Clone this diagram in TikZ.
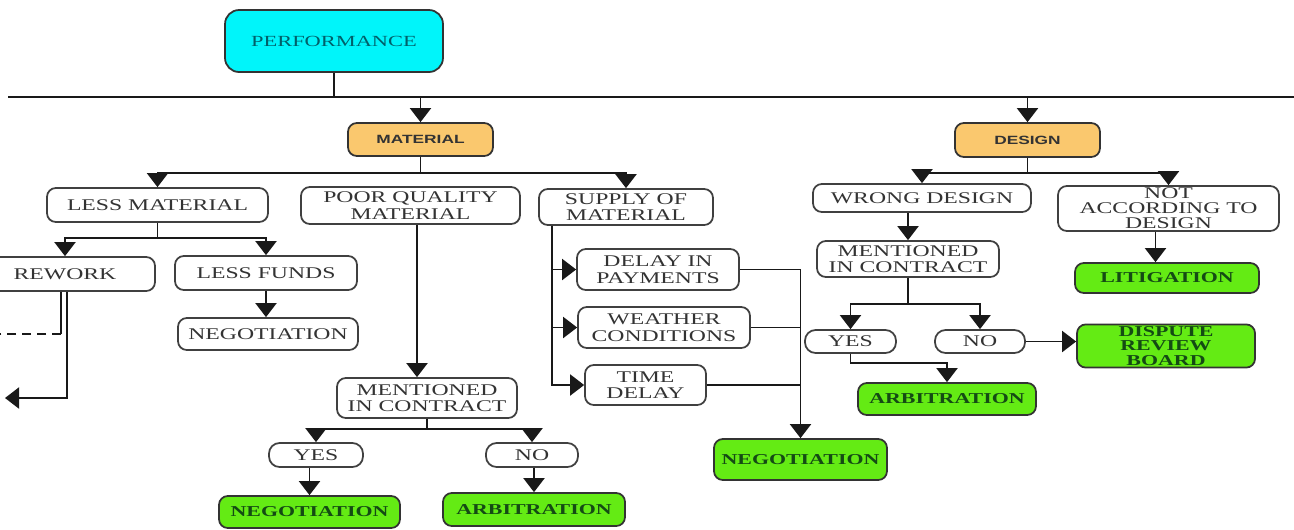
\documentclass[tikz,border=0pt]{standalone}
\usepackage{fontspec}
\setmainfont{Liberation Serif}[FakeStretch=1.45]
\setsansfont{Liberation Sans}[FakeStretch=1.45]
\usepackage{xcolor}
\usepackage{tikz}
\usetikzlibrary{arrows.meta}

\definecolor{perfcyan}{RGB}{0,245,250}
\definecolor{perftext}{RGB}{0,95,105}
\definecolor{matorange}{RGB}{250,200,110}
\definecolor{leafgreen}{RGB}{100,235,20}
\definecolor{leaftext}{RGB}{20,75,20}

\begin{document}
\begin{tikzpicture}[
      x=0.02cm, y=-0.02cm,
      box/.style={rectangle, draw=black!75, line width=1pt, fill=white, rounded corners=5pt, align=center, inner sep=1pt, text=black!80, font=\fontsize{9.3}{9.4}\selectfont},
      pill/.style={box, rounded corners=6pt},
      leaf/.style={box, fill=leafgreen, draw=black!80, text=leaftext, font=\fontsize{8.6}{8.6}\selectfont\bfseries},
      head/.style={box, fill=matorange, draw=black!80, text=black!80, font=\fontsize{6.8}{8}\selectfont\sffamily\bfseries},
      arrow/.style={-{Triangle[length=8pt,width=12pt]}, line width=1.1pt, draw=black!90},
      line/.style={line width=1.1pt, draw=black!90}
    ]
    \useasboundingbox (0,0) rectangle (1294,529);
    \clip (0,0) rectangle (1294,529);

    \node[box, fill=perfcyan, draw=black!80, text=perftext, rounded corners=8pt, minimum width=4.36cm, minimum height=1.24cm, font=\fontsize{8.8}{9}\selectfont] (perf) at (334,41) {PERFORMANCE};
    \node[head, minimum width=2.9cm, minimum height=0.66cm] (material) at (420.5,139.5) {MATERIAL};
    \node[head, minimum width=2.9cm, minimum height=0.68cm] (design) at (1027.5,140) {DESIGN};

    \node[box, minimum width=4.42cm, minimum height=0.68cm] (lessmat) at (157.5,205) {LESS MATERIAL};
    \node[box, minimum width=4.38cm, minimum height=0.74cm] (poorq) at (410.5,205.5) {POOR QUALITY\\MATERIAL};
    \node[box, minimum width=3.48cm, minimum height=0.72cm] (supply) at (626,207) {SUPPLY OF\\MATERIAL};
    \node[box, minimum width=3.6cm, minimum height=0.68cm] (rework) at (65,274) {REWORK};
    \node[box, minimum width=3.64cm, minimum height=0.68cm] (lessfunds) at (266,273) {LESS FUNDS};
    \node[box, minimum width=3.6cm, minimum height=0.64cm] (negot1) at (268,334) {NEGOTIATION};
    \node[box, minimum width=3.6cm, minimum height=0.8cm] (mic1) at (427,398) {MENTIONED\\IN CONTRACT};
    \node[pill, minimum width=1.88cm, minimum height=0.48cm] (yes1) at (316,455) {YES};
    \node[pill, minimum width=1.84cm, minimum height=0.48cm] (no1) at (532,455) {NO};
    \node[leaf, minimum width=3.62cm, minimum height=0.64cm] (negot2) at (309.5,512) {NEGOTIATION};
    \node[leaf, minimum width=3.64cm, minimum height=0.66cm] (arbit1) at (534,509.5) {ARBITRATION};
    \node[box, minimum width=3.24cm, minimum height=0.82cm] (delay) at (658,269.5) {DELAY IN\\PAYMENTS};
    \node[box, minimum width=3.44cm, minimum height=0.82cm] (weather) at (664,327.5) {WEATHER\\CONDITIONS};
    \node[box, minimum width=2.42cm, minimum height=0.8cm] (timedelay) at (645.5,385) {TIME\\DELAY};
    \node[leaf, minimum width=3.46cm, minimum height=0.82cm] (negot3) at (800.5,459.5) {NEGOTIATION};

    \node[box, minimum width=4.36cm, minimum height=0.56cm] (wrongd) at (922,198) {WRONG DESIGN};
    \node[box, minimum width=4.42cm, minimum height=0.9cm, font=\fontsize{9.3}{8.6}\selectfont] (notacc) at (1168.5,208.5) {NOT\\ACCORDING TO\\DESIGN};
    \node[box, minimum width=3.64cm, minimum height=0.72cm] (mic2) at (908,259) {MENTIONED\\IN CONTRACT};
    \node[leaf, minimum width=3.68cm, minimum height=0.6cm] (litig) at (1167,278) {LITIGATION};
    \node[pill, minimum width=1.82cm, minimum height=0.46cm] (yes2) at (850.5,341.5) {YES};
    \node[pill, minimum width=1.8cm, minimum height=0.46cm] (no2) at (980,341.5) {NO};
    \node[leaf, minimum width=3.56cm, minimum height=0.76cm, font=\fontsize{8.6}{8.4}\selectfont\bfseries] (drb) at (1166,346) {DISPUTE\\REVIEW\\BOARD};
    \node[leaf, minimum width=3.56cm, minimum height=0.64cm] (arbit2) at (947,399) {ARBITRATION};

    \coordinate (busL) at (8,97);
    \coordinate (busR) at (1294,97);
    \coordinate (rwdash) at (0,334);
    \coordinate (rwout) at (5,398);

    \draw[line] (busL) -- (busR);
    \draw[line] (perf.south) -- (perf.south |- busL);
    \draw[arrow] (perf.south |- busL) -| (material.north);
    \draw[arrow] (perf.south |- busL) -| (design.north);

    \draw[arrow] (material.south) -- ++(0,16) -| (lessmat.north);
    \draw[arrow] (material.south) -- ++(0,16) -| (supply.north);

    \draw[arrow] (lessmat.south) -- ++(0,15) -| (rework.north);
    \draw[arrow] (lessmat.south) -- ++(0,15) -| (lessfunds.north);
    \draw[line] ([xshift=-0.08cm]rework.south) -- ([xshift=-0.08cm]rework.south |- rwdash);
    \draw[line, dash pattern=on 5pt off 3.5pt] ([xshift=-0.08cm]rework.south |- rwdash) -- (rwdash);
    \draw[arrow] ([xshift=0.04cm]rework.south) |- (rwout);
    \draw[arrow] (lessfunds.south) -- (lessfunds.south |- negot1.north);

    \draw[arrow] ([xshift=0.13cm]poorq.south) -- ([xshift=0.13cm]poorq.south |- mic1.north);
    \draw[arrow] (mic1.south) -- ++(0,10) -| (yes1.north);
    \draw[arrow] (mic1.south) -- ++(0,10) -| (no1.north);
    \draw[arrow] (negot2.north |- yes1.south) -- (negot2.north);
    \draw[arrow] (arbit1.north |- no1.south) -- (arbit1.north);

    \draw[arrow] ([xshift=0.28cm]supply.south west) |- (delay.west);
    \draw[arrow] ([xshift=0.28cm]supply.south west) |- (weather.west);
    \draw[arrow] ([xshift=0.28cm]supply.south west) |- (timedelay.west);
    \draw[arrow] (delay.east) -| (negot3.north);
    \draw[line] (weather.east) -- (weather.east -| negot3);
    \draw[line] (timedelay.east) -- (timedelay.east -| negot3);

    \draw[arrow] (design.south) -- ++(0,15) -| (wrongd.north);
    \draw[arrow] (design.south) -- ++(0,15) -| (notacc.north);
    \draw[arrow] (mic2.north |- wrongd.south) -- (mic2.north);
    \draw[arrow] ([xshift=-0.26cm]notacc.south) -- ([xshift=-0.26cm]notacc.south |- litig.north);
    \draw[arrow] (mic2.south) -- ++(0,26) -| (yes2.north);
    \draw[arrow] (mic2.south) -- ++(0,26) -| (no2.north);
    \draw[arrow] (no2.east) -- (no2.east -| drb.west);
    \draw[arrow] (yes2.south) -- ++(0,9) -| (arbit2.north);
  \end{tikzpicture}
\end{document}
